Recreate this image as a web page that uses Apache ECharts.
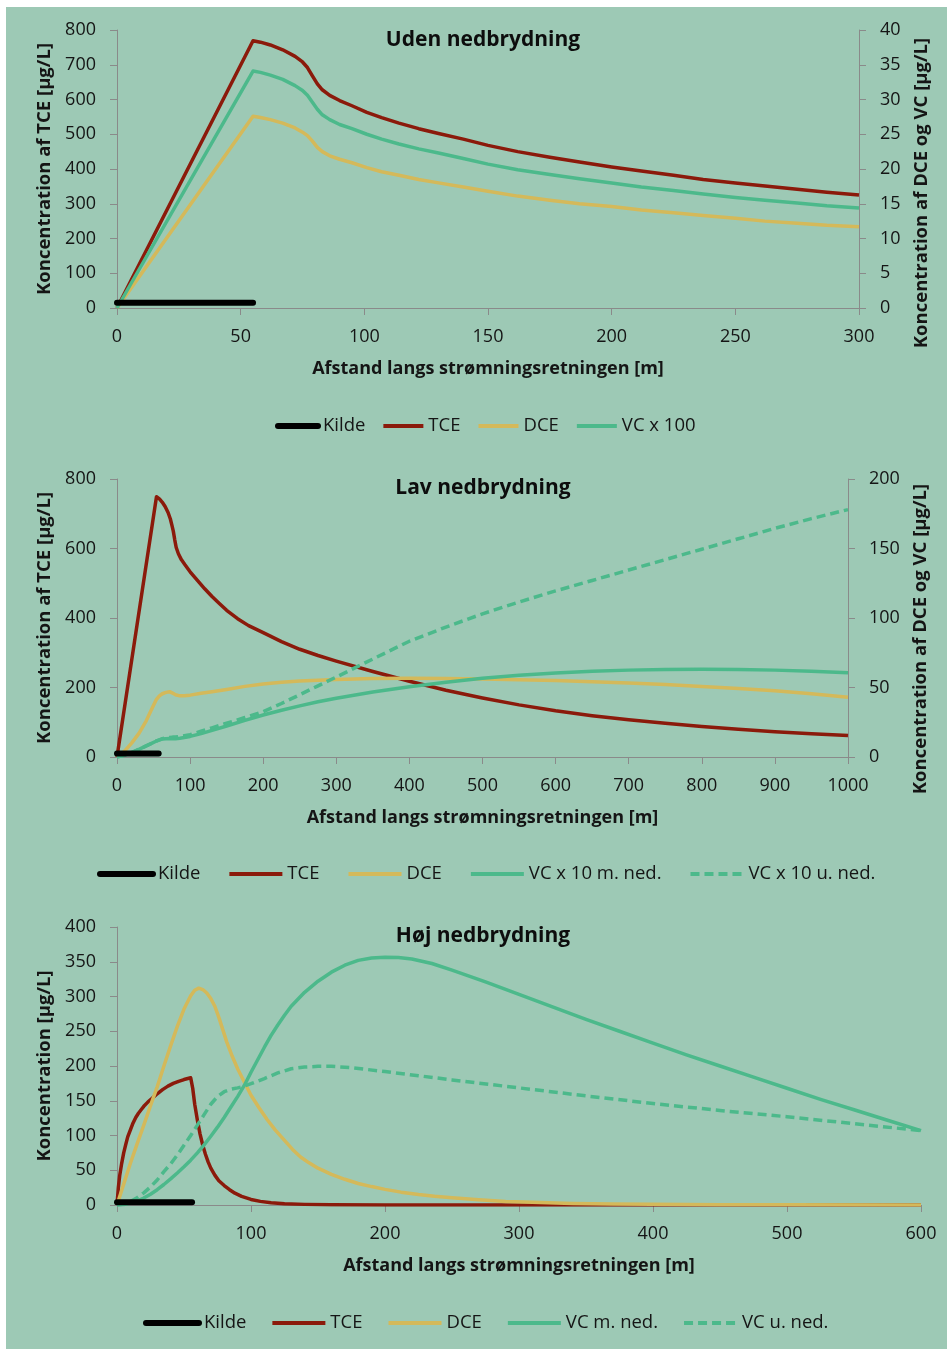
<!DOCTYPE html>
<html><head><meta charset="utf-8">
<script src="https://cdn.jsdelivr.net/npm/echarts@6/dist/echarts.min.js"></script>
<style>html,body{margin:0;padding:0;background:#fff;}#c{position:absolute;left:6px;top:7px;width:941px;height:1342px;background:#9dc9b5;}</style>
</head><body><div id="c"></div><script>
// ---------- Chart 1: Uden nedbrydning (x in m) ----------
const distU = [0, 55, 58, 62, 67, 72, 75, 77, 79, 81, 83, 86, 90, 95, 101, 107, 114, 122, 130, 140, 150, 162, 175, 187, 200, 212, 225, 237, 250, 262, 275, 287, 300];
const tceU  = [0, 769, 765, 757, 743, 724, 708, 692, 668, 645, 628, 612, 597, 582, 563, 548, 532, 516, 502, 486, 468, 450, 434, 420, 406, 394, 382, 370, 360, 351, 342, 333, 325];
const dceU  = [0, 27.6, 27.4, 27.1, 26.6, 25.9, 25.3, 24.8, 24.0, 23.1, 22.5, 21.9, 21.4, 20.9, 20.2, 19.6, 19.1, 18.5, 18.0, 17.4, 16.8, 16.1, 15.5, 15.0, 14.6, 14.1, 13.7, 13.3, 12.9, 12.5, 12.2, 11.9, 11.7];
const vcU   = [0, 34.1, 33.9, 33.5, 32.9, 32.0, 31.3, 30.6, 29.6, 28.6, 27.8, 27.1, 26.4, 25.8, 25.0, 24.3, 23.6, 22.9, 22.3, 21.5, 20.7, 19.9, 19.2, 18.6, 18.0, 17.4, 16.9, 16.4, 15.9, 15.5, 15.1, 14.7, 14.4];
const kildeDistU = [0, 55];
const kildeU = [15, 15];

// ---------- Chart 2: Lav nedbrydning ----------
const distTceL = [0, 54, 58, 62, 66, 70, 73, 75, 77, 79, 81, 84, 88, 93, 100, 110, 120, 130, 140, 150, 165, 180, 200, 225, 250, 275, 300, 350, 400, 450, 500, 550, 600, 650, 700, 750, 800, 850, 900, 950, 1000];
const tceL     = [0, 749, 743, 733, 720, 703, 685, 668, 650, 625, 603, 585, 568, 553, 533, 508, 484, 462, 442, 422, 398, 378, 358, 332, 310, 292, 276, 246, 218, 192, 170, 150, 133, 119, 107, 97, 88, 80, 73, 67, 62];
const distL = [0, 10, 20, 30, 40, 48, 54, 58, 62, 67, 72, 76, 80, 86, 92, 100, 115, 130, 150, 175, 200, 225, 250, 275, 300, 350, 400, 450, 500, 550, 600, 650, 700, 750, 800, 850, 900, 950, 1000];
const dceL  = [0, 4, 10, 17, 26, 35, 41.5, 44, 45.5, 46.5, 47, 46, 44.8, 44, 44, 44.5, 45.8, 47, 48.6, 50.8, 52.5, 53.7, 54.6, 55.3, 55.8, 56.4, 56.6, 56.5, 56.1, 55.6, 55, 54.2, 53.2, 52.1, 50.8, 49.3, 47.6, 45.5, 43];
const vcmL  = [0, 1.2, 3.2, 5.5, 8, 10, 11.5, 12.3, 12.9, 13.2, 13.3, 13.2, 13.2, 13.5, 14, 14.8, 16.8, 19.2, 22.3, 26.3, 30.2, 33.6, 36.8, 39.7, 42.3, 46.8, 50.6, 53.8, 56.6, 58.8, 60.5, 61.7, 62.5, 63, 63.2, 63, 62.5, 61.7, 60.7];
const vcuL  = [0, 1.2, 3.2, 5.5, 8, 10, 11.6, 12.4, 13.2, 13.8, 14.1, 14.3, 14.4, 14.8, 15.3, 16, 18.5, 21, 24.3, 28.4, 32.6, 38.5, 44.8, 51.2, 57.5, 70.5, 83.3, 93.5, 103, 111.5, 119.5, 127, 134.5, 142, 149.5, 157, 164.5, 171.5, 178];
const kildeDistL = [0, 57];
const kildeL = [10, 10];

// ---------- Chart 3: Høj nedbrydning ----------
const distTceH = [0, 1, 2, 3.5, 5, 6.5, 8, 10, 12, 14, 16, 18, 20, 23, 26, 30, 34, 38, 42, 46, 50, 55, 56.5, 58, 60, 62, 64, 66, 68, 70, 73, 76, 80, 84, 88, 93, 100, 107, 115, 125, 140, 160, 200, 250, 600];
const tceH     = [0, 25, 42, 60, 75, 87, 98, 108, 118, 126, 132, 137, 142, 148, 153, 160, 166, 171, 175, 178, 180.5, 183, 168, 145, 122, 102, 86, 73, 62, 53, 43, 35, 28, 22, 17, 12.5, 8, 5.2, 3.2, 1.8, 0.9, 0.4, 0.1, 0, 0];
const distDceH = [0, 5, 10, 15, 20, 25, 30, 35, 40, 45, 50, 55, 58, 61, 64, 67, 70, 73, 76, 79, 82, 86, 90, 95, 100, 106, 112, 118, 125, 131, 137, 143, 150, 160, 170, 180, 190, 200, 212, 225, 237, 250, 270, 290, 310, 340, 370, 400, 450, 500, 600];
const dceH     = [0, 30, 60, 88, 115, 143, 170, 200, 229, 257, 282, 301, 309, 312, 310, 305, 297, 286, 270, 252, 234, 214, 196, 177, 158, 140, 123, 108, 93, 80, 69, 61, 53, 44, 37, 31, 26.5, 22.5, 18.5, 15, 12.5, 10.5, 7.5, 5.2, 3.8, 2.3, 1.4, 0.9, 0.4, 0.2, 0];
const distVcmH = [0, 5, 10, 15, 20, 25, 30, 35, 40, 45, 50, 55, 60, 65, 70, 75, 80, 85, 90, 95, 100, 105, 110, 115, 120, 125, 130, 140, 150, 160, 170, 180, 190, 200, 210, 220, 235, 250, 275, 300, 325, 350, 375, 400, 425, 450, 475, 500, 525, 550, 575, 600];
const vcmH     = [0, 0.8, 2.5, 5.5, 10, 15.5, 22, 29.5, 37.5, 46, 55, 64.5, 75, 86.5, 99, 112, 126, 141, 156, 172, 191, 209, 227, 244, 259, 273, 286, 306, 322, 335, 345, 352, 355.5, 356.5, 356, 354, 347.5, 338, 321, 303, 285, 267, 250, 233, 216, 200, 184, 168, 152, 137, 122, 107];
const distVcuH = [0, 5, 10, 15, 20, 25, 30, 35, 40, 45, 50, 55, 60, 65, 70, 75, 80, 85, 90, 95, 100, 110, 120, 130, 140, 150, 160, 175, 200, 225, 250, 300, 350, 400, 450, 500, 550, 600];
const vcuH     = [0, 1.5, 5, 10.5, 17.5, 26, 36, 48, 59, 72, 86, 100, 115, 130, 145, 156, 163, 166.5, 168.5, 171, 174.5, 182, 190, 196, 198.5, 199.5, 199.5, 197.5, 192, 186, 180, 168.5, 157, 146, 136, 127, 117, 107];
const kildeDistH = [0, 56];
const kildeH = [4, 4];

// tick setups
const xTicksU = {max: 300, interval: 50};
const xTicksL = {max: 1000, interval: 100};
const xTicksH = {max: 600, interval: 100};

const titles = ['Uden nedbrydning', 'Lav nedbrydning', 'Høj nedbrydning'];
const xName = 'Afstand langs strømningsretningen [m]';
const yNameTce = 'Koncentration af TCE [µg/L]';
const yNameRight = 'Koncentration af DCE og VC [µg/L]';
const yNameH = 'Koncentration [µg/L]';
const legendU = ['Kilde', 'TCE', 'DCE', 'VC x 100'];
const legendL = ['Kilde', 'TCE', 'DCE', 'VC x 10 m. ned.', 'VC x 10 u. ned.'];
const legendH = ['Kilde', 'TCE', 'DCE', 'VC m. ned.', 'VC u. ned.'];

const FONT = '"Open Sans", sans-serif';
const AXC = '#8a8a8a';
const TXT = '#151515';
const C_TCE = '#8b1a0b', C_DCE = '#d4b95a', C_VC = '#4cb98b', C_K = '#000000';

function zip(xs, ys) { return xs.map((x, i) => [x, ys[i]]); }

function xAx(gi, t) {
  return {type: 'value', gridIndex: gi, min: 0, max: t.max, interval: t.interval,
    name: xName, nameLocation: 'middle', nameGap: 52,
    nameTextStyle: {fontFamily: FONT, fontWeight: 'bold', fontSize: 18, color: TXT},
    axisLine: {show: true, onZero: false, lineStyle: {color: AXC, width: 1}},
    axisTick: {show: true, inside: false, length: 7, lineStyle: {color: AXC}},
    axisLabel: {fontFamily: FONT, fontSize: 18, color: TXT, margin: 20, formatter: v => String(v)},
    splitLine: {show: false}};
}
function yAx(gi, pos, max, interval, name, gap, pad) {
  return {type: 'value', gridIndex: gi, position: pos, min: 0, max: max, interval: interval,
    name: name, nameLocation: 'middle', nameGap: gap, nameRotate: 90,
    nameTextStyle: {fontFamily: FONT, fontWeight: 'bold', fontSize: 18.5, color: TXT, padding: pad || 0},
    axisLine: {show: true, onZero: false, lineStyle: {color: AXC, width: 1}},
    axisTick: {show: true, inside: false, length: 7, lineStyle: {color: AXC}},
    axisLabel: {fontFamily: FONT, fontSize: 18, color: TXT, margin: 21, formatter: v => String(v)},
    splitLine: {show: false}};
}
function line(name, xi, yi, data, color, opts) {
  opts = opts || {};
  return {type: 'line', name: name, xAxisIndex: xi, yAxisIndex: yi, data: data,
    showSymbol: false, symbol: 'circle', smooth: false, z: opts.z || 2,
    lineStyle: {color: color, width: opts.width || 3.5, type: opts.type || 'solid', cap: opts.cap || 'butt', join: 'round'},
    itemStyle: {color: color}};
}
const legendText = {fontFamily: FONT, fontSize: 18.5, color: TXT};
function leg(names, left, top, w, gap) {
  const data = names.map(n => n === 'Kilde'
    ? {name: n, lineStyle: {width: 6, cap: 'round'}}
    : {name: n, lineStyle: {width: 4}});
  return {data: data, left: left, top: top, itemWidth: w, itemHeight: 14, itemGap: gap,
    textStyle: legendText, itemStyle: {opacity: 0}, lineStyle: {width: 4}, selectedMode: false};
}

const option = {
  animation: false,
  backgroundColor: 'transparent',
  title: titles.map((t, i) => ({text: t, left: 472, top: [17.5, 465.5, 913.5][i], textAlign: 'center',
    textStyle: {fontFamily: FONT, fontWeight: 'bold', fontSize: 21, color: '#0d0d0d'}})),
  grid: [
    {left: 111, top: 23, width: 742, height: 278, outerBoundsMode: 'none', containLabel: false},
    {left: 111, top: 472, width: 731, height: 278, outerBoundsMode: 'none', containLabel: false},
    {left: 111, top: 920, width: 804, height: 278, outerBoundsMode: 'none', containLabel: false}
  ],
  xAxis: [xAx(0, xTicksU), xAx(1, xTicksL), xAx(2, xTicksH)],
  yAxis: [
    yAx(0, 'left', 800, 100, yNameTce, 60),
    yAx(0, 'right', 40, 5, yNameRight, 53, [0, 48, 0, 0]),
    yAx(1, 'left', 800, 200, yNameTce, 60),
    yAx(1, 'right', 200, 50, yNameRight, 53, [0, 42, 0, 0]),
    yAx(2, 'left', 400, 50, yNameH, 60)
  ],
  legend: [
    leg(legendU, 264, 404.5, 40, 16),
    leg(legendL, 86, 852.5, 53, 27),
    leg(legendH, 132, 1301.5, 53, 24)
  ],
  series: [
    line('TCE', 0, 0, zip(distU, tceU), C_TCE),
    line('DCE', 0, 1, zip(distU, dceU), C_DCE),
    line('VC x 100', 0, 1, zip(distU, vcU), C_VC),
    line('Kilde', 0, 0, zip(kildeDistU, kildeU), C_K, {width: 6, cap: 'round', z: 3}),

    line('TCE', 1, 2, zip(distTceL, tceL), C_TCE),
    line('DCE', 1, 3, zip(distL, dceL), C_DCE),
    line('VC x 10 m. ned.', 1, 3, zip(distL, vcmL), C_VC),
    line('VC x 10 u. ned.', 1, 3, zip(distL, vcuL), C_VC, {type: [9, 5]}),
    line('Kilde', 1, 2, zip(kildeDistL, kildeL), C_K, {width: 6, cap: 'round', z: 3}),

    line('TCE', 2, 4, zip(distTceH, tceH), C_TCE),
    line('DCE', 2, 4, zip(distDceH, dceH), C_DCE),
    line('VC m. ned.', 2, 4, zip(distVcmH, vcmH), C_VC),
    line('VC u. ned.', 2, 4, zip(distVcuH, vcuH), C_VC, {type: [9, 5]}),
    line('Kilde', 2, 4, zip(kildeDistH, kildeH), C_K, {width: 6, cap: 'round', z: 3})
  ]
};
const chart = echarts.init(document.getElementById('c'), null, {renderer: 'canvas'});
chart.setOption(option);
</script></body></html>
